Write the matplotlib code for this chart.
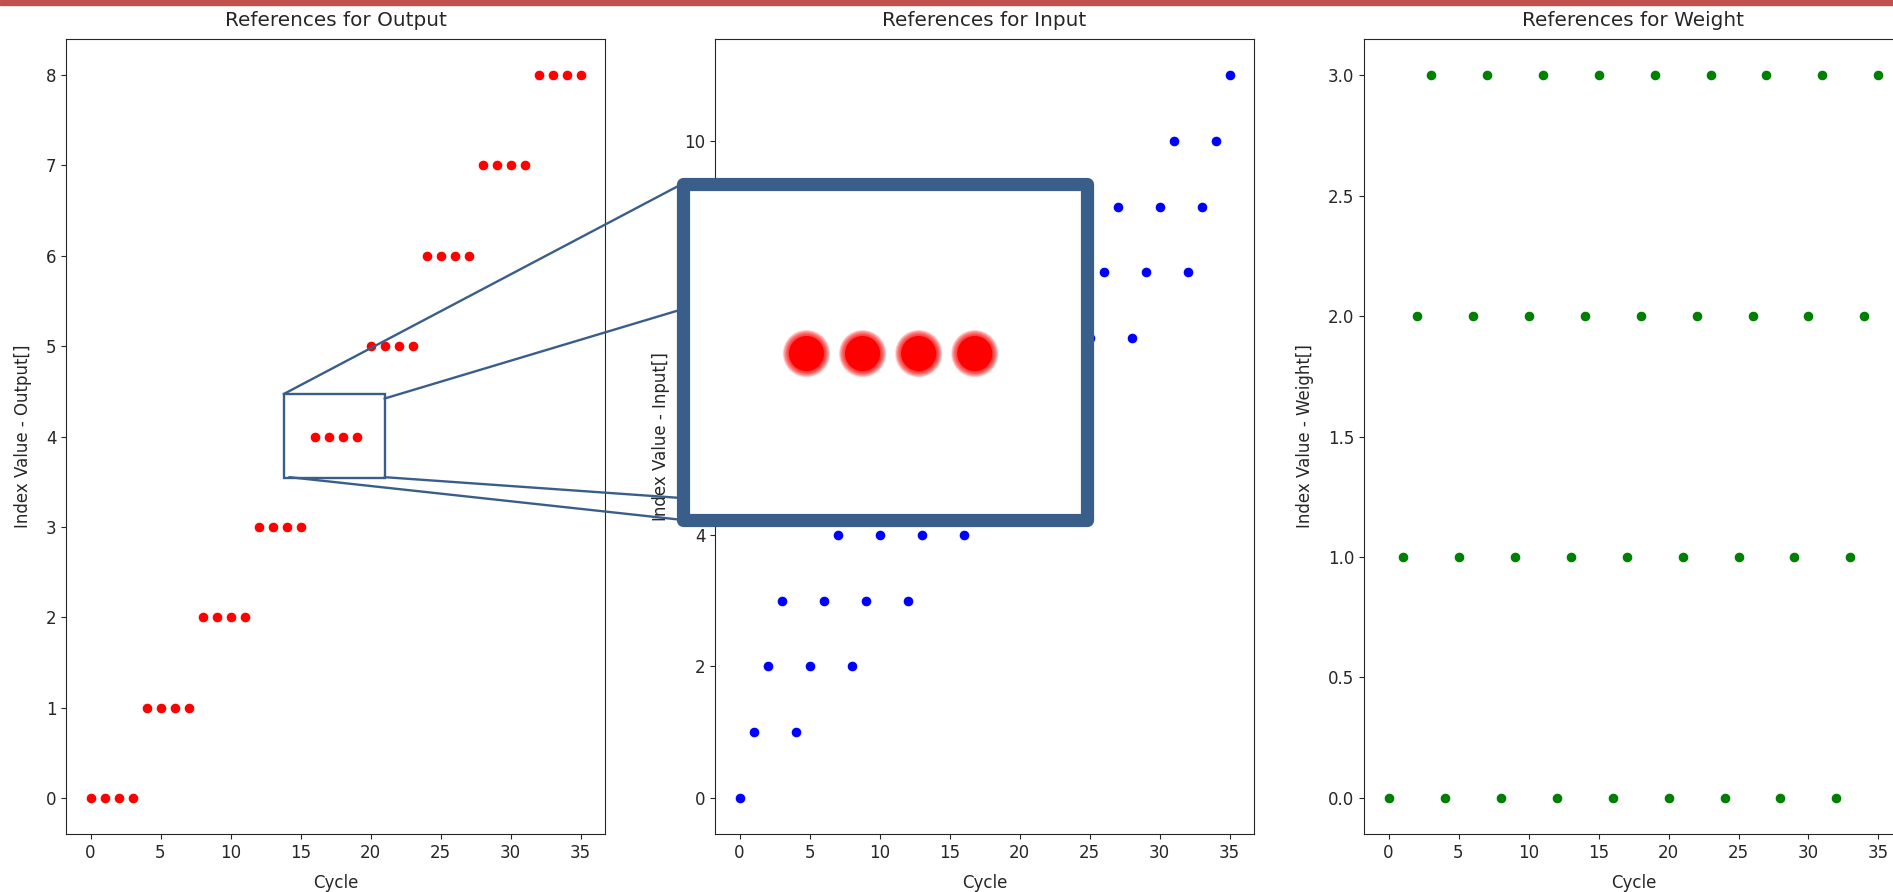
import matplotlib
matplotlib.use("Agg")
import matplotlib.pyplot as plt
from matplotlib.patches import Rectangle, ConnectionPatch

cycles = [0, 1, 2, 3, 4, 5, 6, 7, 8, 9, 10, 11, 12, 13, 14, 15, 16, 17,
          18, 19, 20, 21, 22, 23, 24, 25, 26, 27, 28, 29, 30, 31, 32, 33, 34, 35]
output_idx = [0, 0, 0, 0, 1, 1, 1, 1, 2, 2, 2, 2, 3, 3, 3, 3, 4, 4,
              4, 4, 5, 5, 5, 5, 6, 6, 6, 6, 7, 7, 7, 7, 8, 8, 8, 8]
input_idx = [0, 1, 2, 3, 1, 2, 3, 4, 2, 3, 4, 5, 3, 4, 5, 6, 4, 5,
             6, 7, 5, 6, 7, 8, 6, 7, 8, 9, 7, 8, 9, 10, 8, 9, 10, 11]
weight_idx = [0, 1, 2, 3, 0, 1, 2, 3, 0, 1, 2, 3, 0, 1, 2, 3, 0, 1,
              2, 3, 0, 1, 2, 3, 0, 1, 2, 3, 0, 1, 2, 3, 0, 1, 2, 3]

names = ["Output", "Input", "Weight"]
colors = ["red", "blue", "green"]

# zoomed region of the Output plot
zoom_x = (13.8, 21.0)
zoom_y = (3.54, 4.47)

plt.rcParams["font.size"] = 12
plt.rcParams["text.color"] = ".15"
plt.rcParams["axes.labelcolor"] = ".15"
plt.rcParams["xtick.color"] = ".15"
plt.rcParams["ytick.color"] = ".15"
plt.rcParams["axes.edgecolor"] = ".15"

W, H = 1893, 892
fig = plt.figure(figsize=(W / 100, H / 100), dpi=100)

# red strip along the top
fig.patches.append(Rectangle((0, 1 - 5 / H), 1, 5 / H, transform=fig.transFigure,
                             color="#c0504d", zorder=0))

axes = []
for i, vals in enumerate([output_idx, input_idx, weight_idx]):
    left = 66 + 649 * i
    ax = fig.add_axes([left / W, 58 / H, 539 / W, 795 / H])
    ax.scatter(cycles, vals, s=60, c=colors[i], edgecolors="white", linewidths=0.75)
    ax.set_title("References for " + names[i], pad=9.5)
    ax.set_xlabel("Cycle", labelpad=8.5)
    ax.set_ylabel("Index Value - " + names[i] + "[]", labelpad=10)
    axes.append(ax)

ax1 = axes[0]
box_color = "#3a5e8a"

ax1.add_patch(Rectangle((zoom_x[0], zoom_y[0]), zoom_x[1] - zoom_x[0], zoom_y[1] - zoom_y[0],
                        fill=False, ec=box_color, lw=1.7))

# magnified inset
ins = fig.add_axes([683 / W, (H - 520) / H, 404 / W, 336.5 / H], zorder=10)
ins.set_xlim(*zoom_x)
ins.set_ylim(*zoom_y)
ins.set_xticks([])
ins.set_yticks([])
for sp in ins.spines.values():
    sp.set_visible(False)
# soft edge to look like an enlarged raster
for s in [1150, 1070, 990, 910, 840, 770, 700]:
    ins.scatter(cycles, output_idx, s=s, c="red", alpha=0.18, edgecolors="none")
ins.scatter(cycles, output_idx, s=640, c="red", edgecolors="none")
ins.add_patch(Rectangle((0, 0), 1, 1, transform=ins.transAxes, fill=False,
                        ec=box_color, lw=9.5, joinstyle="round", clip_on=False))

links = [((zoom_x[0], zoom_y[1]), (0, 1)),
         ((zoom_x[1], zoom_y[1] - 0.05), (0, 0.627)),
         ((zoom_x[1], zoom_y[0] + 0.01), (0, 0.065)),
         ((zoom_x[0] + 0.4, zoom_y[0] + 0.01), (0, 0))]
for a, b in links:
    con = ConnectionPatch(xyA=a, coordsA=ax1.transData, xyB=b, coordsB=ins.transAxes,
                          color=box_color, lw=1.7)
    fig.add_artist(con)

fig.savefig("out.png", dpi=100)
